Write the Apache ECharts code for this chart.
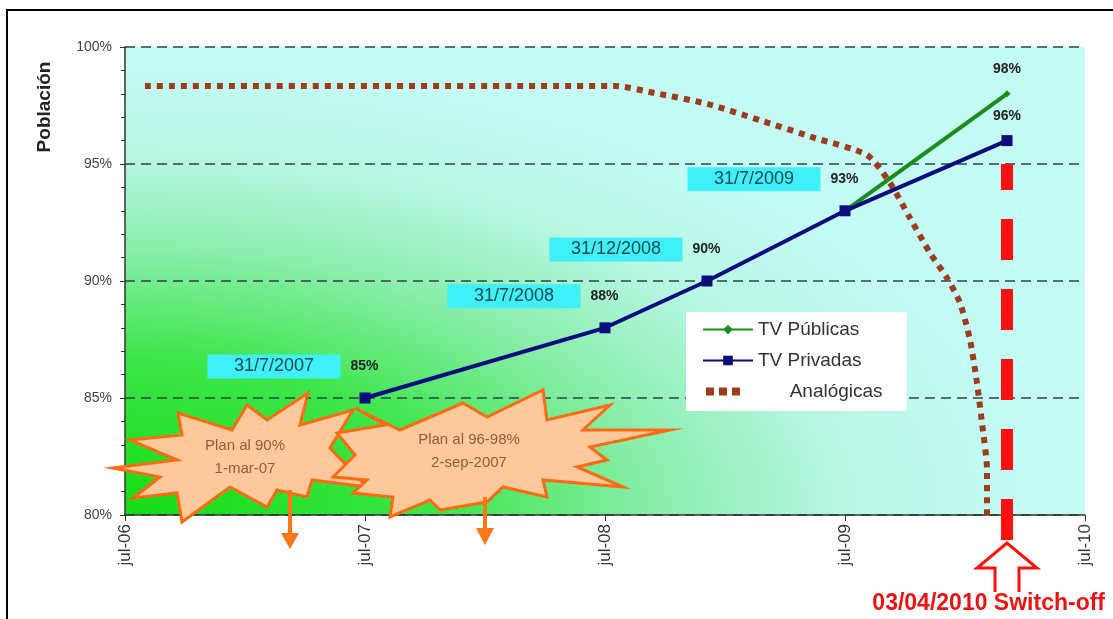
<!DOCTYPE html>
<html>
<head>
<meta charset="utf-8">
<script src="https://cdn.jsdelivr.net/npm/echarts@6/dist/echarts.min.js"></script>
<style>
  html, body { margin: 0; padding: 0; background: #fff; }
  #chart { width: 1113px; height: 619px; }
</style>
</head>
<body>
<div id="chart"></div>
<script>
// Months counted from July 2006 on the horizontal axis
const xTickLabels = ['jul-06', 'jul-07', 'jul-08', 'jul-09', 'jul-10'];

// TV Privadas coverage
const privMonths = [12, 24, 29.1, 36, 44.1];
const privValues = [85, 88, 90, 93, 96];
const privDates = ['31/7/2007', '31/7/2008', '31/12/2008', '31/7/2009', ''];

// TV Públicas coverage (last stretch, above the private line)
const pubMonths = [36, 44.1];
const pubValues = [93, 98];

// Analogue coverage until the switch-off
const analogMonths = [1, 24.5, 26.5, 29.15, 31.85, 34.5, 37.1, 38.25, 39.25, 40.25, 41.1, 41.75, 42.25, 42.6, 42.85, 43.1, 43.1];
const analogValues = [98.33, 98.33, 98.03, 97.56, 96.84, 96.11, 95.38, 94.19, 92.69, 91.2, 90.13, 89.06, 87.48, 85.64, 83.93, 81.92, 80];

// Switch-off date marker (3 April 2010)
const switchOffMonth = 44.1;
const switchOffRange = [78.93, 95];

const FONT = 'Liberation Sans, Arial, sans-serif';

const chart = echarts.init(document.getElementById('chart'), null, { renderer: 'canvas' });

function pairs(xs, ys) { return xs.map((x, i) => [x, ys[i]]); }

const privData = privMonths.map((m, i) => {
  const item = { value: [m, privValues[i]] };
  if (privDates[i]) {
    item.label = {
      formatter: '{d|' + privDates[i] + '}{g|}{v|' + privValues[i] + '%}',
      offset: [-72, 0],
      distance: 14
    };
  } else {
    item.label = { formatter: '{v|' + privValues[i] + '%}', distance: 12 };
  }
  return item;
});

const pubData = pubMonths.map((m, i) => ({
  value: [m, pubValues[i]],
  label: { show: i === pubMonths.length - 1, formatter: '{v|' + pubValues[i] + '%}', distance: 14 }
}));

const richLabel = {
  d: { backgroundColor: '#3ff0f8', width: 133, height: 24, lineHeight: 24, align: 'center', fontSize: 18, color: '#1e4a4e', fontFamily: FONT },
  g: { width: 10 },
  v: { fontSize: 14, fontWeight: 'bold', color: '#222', fontFamily: FONT }
};

// Star-shaped callout outline around a centre point
function burst(cx, cy, pts) { return pts.map(p => [cx + p[0], cy + p[1]]); }
const burst1 = burst(240, 460, [
  [-127, 8], [-63, 0], [-110, -20], [-58, -25], [-62, -47], [-8, -30], [7, -55], [27, -40],
  [68, -67], [60, -35], [113, -50], [90, -12], [127, 27], [72, 20], [67, 37], [37, 30],
  [27, 47], [-10, 27], [-58, 62], [-63, 33], [-107, 38], [-80, 17]
]);
const burst2 = burst(470, 450, [
  [-137, 27], [-115, 5], [-133, -17], [-85, -25], [-115, -42], [-70, -20], [-7, -47], [17, -33],
  [73, -60], [77, -30], [140, -45], [113, -20], [200, -20], [120, -3], [137, 10], [107, 17],
  [153, 37], [73, 30], [77, 47], [33, 37], [17, 52], [-30, 60], [-40, 50], [-80, 67],
  [-77, 47], [-117, 43], [-103, 30]
]);

// Three-square legend icon for the dotted analogue line (padded to the icon box)
const dotsIcon = 'path://M0,0h0.01v0.01h-0.01z M50,12h0.01v0.01h-0.01z M3,2h8v8h-8z M16,2h8v8h-8z M29,2h8v8h-8z';

const option = {
  animation: false,
  textStyle: { fontFamily: FONT },
  grid: { left: 125, right: 28, top: 47, bottom: 104, show: false },
  xAxis: {
    type: 'value', min: 0, max: 48, interval: 12,
    axisLine: { show: true, lineStyle: { color: '#333', width: 1.5 } },
    axisTick: { show: true, length: 6, lineStyle: { color: '#333' } },
    splitLine: { show: false },
    axisLabel: {
      rotate: 90, margin: 9, fontSize: 17, color: '#333',
      formatter: v => xTickLabels[Math.round(v / 12)]
    }
  },
  yAxis: {
    type: 'value', min: 80, max: 100, interval: 5,
    axisLine: { show: true, lineStyle: { color: '#333', width: 1.5 } },
    axisTick: { show: true, length: 5, lineStyle: { color: '#333' } },
    minorTick: { show: true, splitNumber: 5, length: 4, lineStyle: { color: '#333' } },
    splitLine: { show: true, lineStyle: { color: '#2c4444', width: 1.5, type: [10, 6] } },
    axisLabel: { margin: 13, fontSize: 14, color: '#444', formatter: v => v + '%' }
  },
  legend: {
    orient: 'vertical', left: 686, top: 312,
    backgroundColor: '#ffffff', padding: [8, 24, 10, 16], itemGap: 12,
    itemWidth: 50, itemHeight: 12,
    textStyle: { fontSize: 19, color: '#333', fontFamily: FONT },
    formatter: name => name === 'Analógicas' ? '      ' + name : name,
    data: [
      'TV Públicas',
      'TV Privadas',
      { name: 'Analógicas', icon: dotsIcon, itemStyle: { color: '#9c3c1c', borderWidth: 0 } }
    ]
  },
  series: [
    {
      name: 'Analógicas', type: 'line', z: 3,
      data: pairs(analogMonths, analogValues),
      smooth: 0.25, showSymbol: false, symbol: 'none',
      lineStyle: { color: '#9c3c1c', width: 6, type: [6, 6], cap: 'butt' },
      itemStyle: { color: '#9c3c1c' }
    },
    {
      name: 'switch-off', type: 'line', z: 4, clip: false, silent: true,
      data: switchOffRange.map(v => [switchOffMonth, v]),
      symbol: 'none',
      lineStyle: { color: '#ff1010', width: 12, type: [41, 29], cap: 'butt' }
    },
    {
      name: 'TV Públicas', type: 'line', z: 5,
      data: pubData,
      symbol: 'diamond', symbolSize: 7, showSymbol: true,
      lineStyle: { color: '#1a8c1a', width: 4 },
      itemStyle: { color: '#1a8c1a' },
      label: { show: true, position: 'top', rich: richLabel }
    },
    {
      name: 'TV Privadas', type: 'line', z: 6,
      data: privData,
      symbol: 'rect', symbolSize: 11,
      lineStyle: { color: '#0c0c7e', width: 4 },
      itemStyle: { color: '#0c0c7e' },
      label: { show: true, position: 'top', rich: richLabel }
    }
  ],
  graphic: [
    // plot-area wash: elliptical green glow from the lower-left corner
    { type: 'rect', z: -10, silent: true, x: 125, y: 47, scaleY: 0.5,
      shape: { x: 0, y: 0, width: 960, height: 936 },
      style: { fill: new echarts.graphic.RadialGradient(0, 1, 0.95, [
        { offset: 0, color: '#14dc14' },
        { offset: 0.35, color: '#3ce648' },
        { offset: 0.6, color: '#8aeeac' },
        { offset: 0.8, color: '#b6f7e2' },
        { offset: 1, color: '#c4fbf4' }
      ]) } },
    { type: 'rect', z: 100, silent: true, shape: { x: 7, y: 10, width: 1200, height: 700 }, style: { fill: 'none', stroke: '#000', lineWidth: 2 } },
    { type: 'text', x: 45, y: 107, rotation: Math.PI / 2, z: 10,
      style: { text: 'Población', font: 'bold 19px ' + FONT, fill: '#222', textAlign: 'center', textVerticalAlign: 'middle' } },
    { type: 'polygon', z: 3, shape: { points: burst1 }, style: { fill: '#fbc99b', stroke: '#ff6a12', lineWidth: 3 } },
    { type: 'text', x: 245, y: 446, z: 4, style: { text: 'Plan al 90%', font: '15px ' + FONT, fill: '#955a3c', textAlign: 'center', textVerticalAlign: 'middle' } },
    { type: 'text', x: 245, y: 469, z: 4, style: { text: '1-mar-07', font: '15px ' + FONT, fill: '#955a3c', textAlign: 'center', textVerticalAlign: 'middle' } },
    { type: 'polygon', z: 3, shape: { points: burst2 }, style: { fill: '#fbc99b', stroke: '#ff6a12', lineWidth: 3 } },
    { type: 'text', x: 469, y: 440, z: 4, style: { text: 'Plan al 96-98%', font: '15px ' + FONT, fill: '#955a3c', textAlign: 'center', textVerticalAlign: 'middle' } },
    { type: 'text', x: 469, y: 463, z: 4, style: { text: '2-sep-2007', font: '15px ' + FONT, fill: '#955a3c', textAlign: 'center', textVerticalAlign: 'middle' } },
    { type: 'polygon', z: 4, shape: { points: [[288, 490], [292, 490], [292, 533], [299, 533], [290, 549], [281, 533], [288, 533]] }, style: { fill: '#ff7518' } },
    { type: 'polygon', z: 4, shape: { points: [[483, 497], [487, 497], [487, 528], [494, 528], [485, 545], [476, 528], [483, 528]] }, style: { fill: '#ff7518' } },
    { type: 'polyline', z: 4, shape: { points: [[995, 592], [995, 568], [977, 568], [1007, 543], [1037, 568], [1019, 568], [1019, 592]] }, style: { stroke: '#ff1010', lineWidth: 3, fill: null } },
    { type: 'text', x: 1105, y: 604, z: 4, style: { text: '03/04/2010 Switch-off', font: 'bold 23px ' + FONT, fill: '#ee1111', textAlign: 'right', textVerticalAlign: 'middle' } }
  ]
};

chart.setOption(option);
</script>
</body>
</html>
